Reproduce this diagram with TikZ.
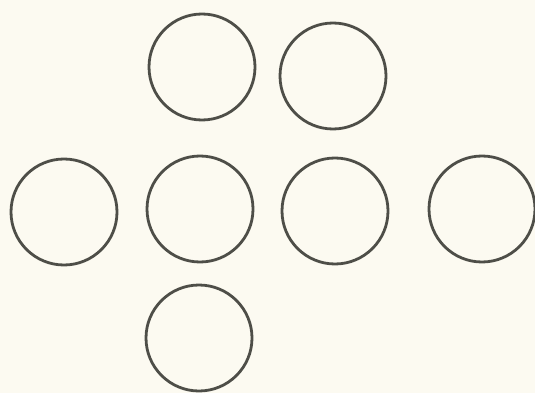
\documentclass[tikz,border=0pt]{standalone}
\usepackage{tikz}
\usetikzlibrary{positioning}
\definecolor{paper}{RGB}{252,250,241}
\definecolor{ink}{RGB}{78,78,72}

\begin{document}
\begin{tikzpicture}[x=0.5mm, y=-0.5mm,
    ring/.style={circle, draw=ink, line width=1.4mm, minimum size=5.3cm, inner sep=0pt}]
  % background, fixes the margins
  \fill[paper] (0,0) rectangle (535,393);
  \useasboundingbox (0,0) rectangle (535,393);

  % upper pair
  \node[ring] (top1) at (202,67) {};
  \node[ring] (top2) at (333,76) {};

  % middle row
  \node[ring] (mid1) at (64,212) {};
  \node[ring] (mid2) at (200,209) {};
  \node[ring] (mid3) at (335,211) {};
  \node[ring] (mid4) at (482,209) {};

  % bottom one
  \node[ring] (bot) at (199,338) {};

\end{tikzpicture}
\end{document}
